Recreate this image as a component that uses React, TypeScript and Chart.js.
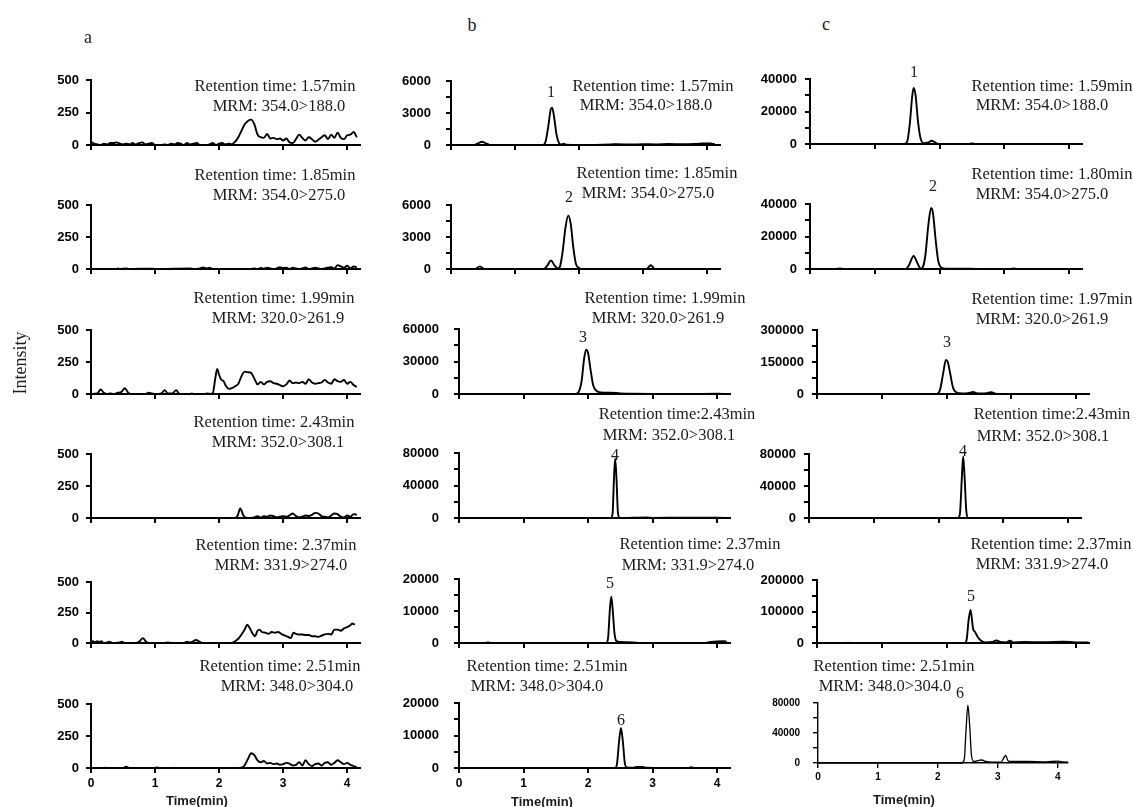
import React, { useEffect, useRef } from 'react';
import { Chart, registerables } from 'chart.js';
Chart.register(...registerables);

type P = [number, number][];

// ---------- column a (blank) ----------
const a1: P = [[0,25],[0.05,10],[0.1,5],[0.15,0],[0.2,10],[0.25,5],[0.3,15],[0.35,15],[0.4,20],[0.45,10],[0.5,5],[0.55,10],[0.6,5],[0.65,15],[0.7,5],[0.75,15],[0.8,20],[0.85,5],[0.9,10],[0.95,15],[1.0,0],[1.1,0],[1.15,5],[1.2,0],[1.25,10],[1.3,5],[1.35,15],[1.4,10],[1.45,0],[1.5,15],[1.55,5],[1.6,10],[1.65,15],[1.7,0],[1.8,0],[1.85,5],[1.9,15],[1.95,0],[2.0,10],[2.05,15],[2.1,5],[2.15,10],[2.2,5],[2.25,25],[2.3,60],[2.35,110],[2.4,160],[2.45,185],[2.5,195],[2.55,160],[2.6,80],[2.65,60],[2.7,55],[2.75,85],[2.8,50],[2.85,55],[2.9,45],[2.95,50],[3.0,35],[3.05,50],[3.1,20],[3.15,15],[3.2,45],[3.25,80],[3.3,55],[3.35,35],[3.4,60],[3.45,45],[3.5,25],[3.55,40],[3.6,60],[3.65,75],[3.7,45],[3.75,80],[3.8,55],[3.85,95],[3.9,55],[3.95,45],[4.0,75],[4.05,80],[4.1,100],[4.15,60]];
const a2: P = [[0,0],[0.4,0],[0.42,5],[0.45,0],[0.55,5],[0.58,0],[0.95,3],[1.0,0],[1.55,5],[1.6,0],[1.7,5],[1.75,12],[1.8,5],[1.85,10],[1.9,0],[2.5,0],[2.55,5],[2.6,0],[2.65,8],[2.7,3],[2.75,10],[2.8,5],[2.85,0],[2.9,5],[2.95,15],[3.0,8],[3.05,10],[3.1,0],[3.15,10],[3.2,5],[3.25,0],[3.3,5],[3.35,12],[3.4,0],[3.45,5],[3.5,10],[3.55,5],[3.6,0],[3.65,5],[3.7,10],[3.75,15],[3.8,5],[3.85,30],[3.9,20],[3.95,10],[4.0,25],[4.05,5],[4.1,20],[4.15,15]];
const a3: P = [[0,0],[0.1,5],[0.15,35],[0.2,10],[0.25,0],[0.3,5],[0.35,0],[0.42,10],[0.47,15],[0.53,45],[0.58,10],[0.62,0],[0.85,0],[0.9,10],[0.95,5],[1.0,0],[1.1,5],[1.15,30],[1.2,5],[1.27,5],[1.33,30],[1.38,0],[1.55,0],[1.57,5],[1.6,0],[1.78,0],[1.82,5],[1.86,0],[1.9,5],[1.94,120],[1.97,195],[2.0,150],[2.03,115],[2.07,100],[2.11,60],[2.15,40],[2.2,45],[2.25,60],[2.3,80],[2.35,140],[2.4,175],[2.45,170],[2.5,165],[2.53,140],[2.56,110],[2.6,75],[2.65,95],[2.7,75],[2.75,95],[2.8,100],[2.85,85],[2.9,80],[2.95,70],[3.0,60],[3.05,75],[3.1,105],[3.15,85],[3.2,90],[3.25,85],[3.3,95],[3.35,80],[3.4,115],[3.45,90],[3.5,80],[3.55,85],[3.6,90],[3.65,110],[3.7,90],[3.75,80],[3.8,115],[3.85,100],[3.9,95],[3.95,110],[4.0,80],[4.05,95],[4.1,70],[4.15,55]];
const a4: P = [[0,0],[2.25,0],[2.29,20],[2.33,75],[2.38,20],[2.43,0],[2.55,5],[2.6,15],[2.65,5],[2.7,15],[2.75,10],[2.8,20],[2.85,15],[2.9,5],[2.95,10],[3.0,15],[3.05,10],[3.1,20],[3.15,35],[3.2,15],[3.25,5],[3.3,10],[3.35,20],[3.4,15],[3.45,25],[3.5,40],[3.55,35],[3.6,15],[3.65,10],[3.7,5],[3.75,20],[3.8,35],[3.85,30],[3.9,10],[3.95,5],[4.0,20],[4.05,10],[4.1,30],[4.15,25]];
const a5: P = [[0,10],[0.03,15],[0.06,5],[0.1,15],[0.13,5],[0.16,15],[0.2,0],[0.25,5],[0.29,10],[0.33,0],[0.45,5],[0.48,10],[0.52,0],[0.7,0],[0.76,15],[0.81,40],[0.86,10],[0.9,0],[1.15,0],[1.2,5],[1.25,0],[1.45,0],[1.5,10],[1.55,5],[1.6,15],[1.64,25],[1.7,10],[1.75,0],[2.2,0],[2.25,15],[2.3,35],[2.35,70],[2.4,110],[2.44,150],[2.48,120],[2.52,80],[2.56,55],[2.6,100],[2.63,110],[2.67,90],[2.72,85],[2.77,75],[2.82,90],[2.87,85],[2.92,90],[2.97,75],[3.03,60],[3.08,50],[3.12,40],[3.16,85],[3.2,75],[3.25,70],[3.3,70],[3.35,65],[3.4,65],[3.45,55],[3.5,55],[3.55,50],[3.6,60],[3.65,70],[3.7,75],[3.75,70],[3.8,110],[3.85,110],[3.9,100],[3.95,120],[4.0,130],[4.05,145],[4.08,160],[4.12,150]];
const a6: P = [[0,0],[0.2,0],[0.22,3],[0.25,0],[0.5,0],[0.55,10],[0.6,0],[1.0,0],[1.03,5],[1.06,0],[1.28,0],[1.3,3],[1.33,0],[2.3,0],[2.38,10],[2.45,70],[2.5,115],[2.55,100],[2.6,60],[2.65,45],[2.7,55],[2.75,35],[2.8,40],[2.85,30],[2.9,35],[2.95,25],[3.0,30],[3.05,40],[3.1,35],[3.15,20],[3.2,25],[3.25,45],[3.3,20],[3.35,60],[3.4,30],[3.45,15],[3.5,30],[3.55,35],[3.6,20],[3.65,40],[3.7,45],[3.75,25],[3.8,40],[3.85,60],[3.9,45],[3.95,30],[4.0,40],[4.05,25],[4.1,15],[4.15,5]];

// ---------- column b ----------
const b1: P = [[0,0],[0.35,0],[0.42,150],[0.48,300],[0.55,150],[0.62,0],[1.44,0],[1.48,400],[1.52,1800],[1.56,3400],[1.58,3500],[1.61,2600],[1.65,900],[1.69,150],[1.72,50],[1.76,120],[1.8,20],[2.0,0],[2.5,50],[2.6,80],[2.8,40],[3.0,70],[3.2,60],[3.4,90],[3.6,80],[3.8,100],[3.95,150],[4.05,140],[4.12,80]];
const b2: P = [[0,0],[0.38,0],[0.45,250],[0.52,0],[1.45,0],[1.5,300],[1.56,800],[1.62,300],[1.67,50],[1.7,200],[1.74,1500],[1.79,4000],[1.83,5000],[1.87,4200],[1.91,2000],[1.95,500],[2.0,100],[2.05,0],[3.05,0],[3.12,350],[3.18,0],[4.15,0]];
const b3: P = [[0,0],[1.8,0],[1.85,1500],[1.9,12000],[1.94,33000],[1.97,41000],[2.0,38000],[2.04,22000],[2.08,8000],[2.13,3000],[2.2,1500],[2.35,1200],[2.5,600],[2.7,200],[3.0,100],[3.5,100],[4.0,200],[4.15,100]];
const b4: P = [[0,0],[2.35,0],[2.38,5000],[2.4,45000],[2.42,73000],[2.44,50000],[2.46,10000],[2.48,1000],[2.52,0],[2.9,600],[3.0,200],[3.5,300],[4.15,200]];
const b5: P = [[0,0],[0.4,0],[0.45,150],[0.5,0],[2.28,0],[2.31,1500],[2.34,11000],[2.36,14500],[2.38,11000],[2.41,3000],[2.44,600],[2.5,300],[2.7,200],[2.8,0],[3.8,0],[3.9,300],[4.0,500],[4.1,600],[4.15,400]];
const b6: P = [[0,0],[2.42,0],[2.45,1500],[2.48,8000],[2.51,12300],[2.54,8000],[2.57,1500],[2.6,200],[2.7,100],[2.75,300],[2.85,350],[2.9,100],[3.55,0],[3.6,250],[3.65,0],[4.15,0]];

// ---------- column c ----------
const c1: P = [[0,0],[1.45,0],[1.5,1500],[1.54,12000],[1.58,30000],[1.6,34500],[1.63,30000],[1.67,13000],[1.71,3000],[1.76,500],[1.82,800],[1.88,2000],[1.93,1000],[1.98,0],[2.45,0],[2.5,300],[2.55,0],[4.15,0]];
const c2: P = [[0,0],[0.4,0],[0.46,300],[0.52,0],[1.48,0],[1.53,2500],[1.6,8000],[1.66,3500],[1.71,300],[1.74,1000],[1.78,8000],[1.83,28000],[1.87,37500],[1.9,34000],[1.94,18000],[1.98,5000],[2.03,800],[2.1,200],[2.6,100],[2.7,0],[3.1,0],[3.14,400],[3.2,0],[4.15,0]];
const c3: P = [[0,0],[1.85,0],[1.9,20000],[1.95,100000],[1.99,160000],[2.02,150000],[2.06,90000],[2.1,30000],[2.15,8000],[2.2,4000],[2.3,3000],[2.36,6000],[2.41,10000],[2.46,4000],[2.55,2000],[2.62,4000],[2.69,8000],[2.75,2000],[2.85,0],[4.15,0]];
const c4: P = [[0,0],[2.3,0],[2.33,5000],[2.36,50000],[2.38,77000],[2.4,55000],[2.43,8000],[2.46,0],[4.15,0]];
const c5: P = [[0,0],[0.45,0],[0.48,1000],[0.52,0],[2.28,0],[2.31,10000],[2.34,70000],[2.37,105000],[2.39,80000],[2.41,45000],[2.44,35000],[2.48,20000],[2.53,8000],[2.6,2000],[2.7,3000],[2.77,8000],[2.84,3000],[2.92,2000],[2.98,7000],[3.03,2000],[3.2,3000],[3.5,2500],[3.8,4000],[4.0,2000],[4.19,1500]];
const c6: P = [[0,0],[2.4,0],[2.44,5000],[2.47,45000],[2.5,77000],[2.53,50000],[2.56,10000],[2.6,2000],[2.66,3000],[2.73,4000],[2.8,2000],[2.9,1000],[3.05,1000],[3.1,7000],[3.13,10000],[3.17,3000],[3.22,2000],[3.5,2000],[3.8,1500],[4.0,2500],[4.1,1500],[4.17,1000]];

// ---------- text ----------
const retentionTexts = [
  'Retention time: 1.57min','Retention time: 1.85min','Retention time: 1.99min','Retention time: 2.43min','Retention time: 2.37min','Retention time: 2.51min',
  'Retention time: 1.57min','Retention time: 1.85min','Retention time: 1.99min','Retention time:2.43min','Retention time: 2.37min','Retention time: 2.51min',
  'Retention time: 1.59min','Retention time: 1.80min','Retention time: 1.97min','Retention time:2.43min','Retention time: 2.37min','Retention time: 2.51min',
];
const mrmTexts = ['MRM: 354.0>188.0','MRM: 354.0>275.0','MRM: 320.0>261.9','MRM: 352.0>308.1','MRM: 331.9>274.0','MRM: 348.0>304.0'];
const peakLabels = ['1','2','3','4','5','6'];
const columnLetters = ['a','b','c'];
const yAxisTitle = 'Intensity';
const xAxisTitle = 'Time(min)';

const series = [a1,a2,a3,a4,a5,a6,b1,b2,b3,b4,b5,b6,c1,c2,c3,c4,c5,c6];
const yMaxes = [500,500,500,500,500,500, 6000,6000,60000,80000,20000,20000, 40000,40000,300000,80000,200000,80000];
const yMinorSteps = [250,250,250,250,250,250, 1500,1500,15000,20000,5000,5000, 10000,10000,75000,20000,50000,20000];
const yMajorSteps = [250,250,250,250,250,250, 3000,3000,30000,40000,10000,10000, 20000,20000,150000,40000,100000,40000];

// ---------- layout (pixels) ----------
// [axisLeft, axisRight, top(ymax), bottom(0)]
const boxes: [number, number, number, number][] = [
  [91,360,80,145],[91,360,205,269],[91,360,330,394],[91,360,454,518],[91,360,582,643],[91,360,704,768],
  [451,720,81,145],[451,720,205,269],[459,730,329,394],[459,730,453,518],[459,730,579,643],[459,730,703,768],
  [810,1082,79,144],[810,1082,204,269],[817,1089,330,394],[809,1081,454,518],[817,1089,580,643],[818,1068,703,763],
];
const labelPad = [7,7,7,7,7,7, 15,15,15,15,15,15, 8,8,8,8,8,13];
const retPos: [number, number][] = [
  [275,86],[275,175],[274,298],[274,422],[276,545],[280,666],
  [653,86],[657,173],[665,298],[677,414],[700,544],[547,666],
  [1052,86],[1052,174],[1052,299],[1052,414],[1051,544],[894,666],
];
const mrmPos: [number, number][] = [
  [279,106],[279,195],[278,318],[278,442],[281,565],[287,686],
  [646,105],[648,193],[658,318],[669,435],[688,565],[537,686],
  [1042,105],[1042,194],[1042,319],[1043,436],[1042,564],[885,686],
];
const peakPos: [number, number][] = [
  [551,92],[569,197],[583,337],[615,455],[610,583],[621,720],
  [914,72],[933,186],[947,342],[963,451],[971,596],[960,693],
];
const letterPos: [number, number][] = [[88,37],[472,25],[826,24]];
const timeTitlePos: [number, number][] = [[197,800],[542,801],[904,799]];

const YW = 60, XH = 34, PT = 34, PR = 8;

function Panel({ idx }: { idx: number }) {
  const ref = useRef<HTMLCanvasElement>(null);
  const [l, r, t, b] = boxes[idx];
  const W = YW + (r - l) + PR;
  const H = PT + (b - t) + XH;
  const isBottom = idx % 6 === 5;
  const small = idx === 17;
  useEffect(() => {
    const fs = small ? 10 : 13;
    const lw = small ? 1.4 : 2;
    const major = yMajorSteps[idx];
    const axisColor = '#000';
    const chart = new Chart(ref.current as HTMLCanvasElement, {
      type: 'line',
      data: {
        datasets: [{
          data: series[idx].map(([x, y]) => ({ x, y })),
          borderColor: '#000',
          borderWidth: small ? 1.3 : 1.9,
          pointRadius: 0,
          fill: false,
          cubicInterpolationMode: 'monotone',
          clip: false as any,
        }],
      },
      options: {
        animation: false,
        responsive: false,
        maintainAspectRatio: false,
        devicePixelRatio: 1,
        layout: { padding: { top: PT, right: PR, left: 0, bottom: 0 } },
        plugins: { legend: { display: false }, tooltip: { enabled: false } },
        scales: {
          x: {
            type: 'linear',
            min: 0,
            max: small ? 4.17 : 4.2,
            afterFit: (s: any) => { s.height = XH; },
            border: { display: true, color: axisColor, width: lw },
            grid: { display: true, drawOnChartArea: false, drawTicks: true, tickLength: 5, color: axisColor, lineWidth: lw },
            ticks: {
              stepSize: 1, includeBounds: false, autoSkip: false, maxRotation: 0, padding: 3, color: '#000',
              font: { size: small ? 10 : 12, weight: 'bold', family: 'Liberation Sans' },
              callback: (v: any) => (isBottom ? String(v) : ''),
            },
          },
          y: {
            type: 'linear',
            min: 0,
            max: yMaxes[idx],
            afterFit: (s: any) => { s.width = YW; },
            border: { display: true, color: axisColor, width: lw },
            grid: { display: true, drawOnChartArea: false, drawTicks: true, tickLength: 5, color: axisColor, lineWidth: lw },
            ticks: {
              stepSize: yMinorSteps[idx], includeBounds: false, autoSkip: false, padding: labelPad[idx], color: '#000',
              font: { size: fs, weight: 'bold', family: 'Liberation Sans' },
              callback: (v: any) => (Math.abs(Number(v) % major) < 1e-6 ? String(v) : ''),
            },
          },
        },
      } as any,
    });
    return () => chart.destroy();
  }, []);
  return (
    <canvas
      ref={ref}
      width={W}
      height={H}
      style={{ position: 'absolute', left: l - YW, top: t - PT, width: W, height: H }}
    />
  );
}

const serif = '"Liberation Serif", "Times New Roman", serif';

function Label({ text, x, y, size, rotate, bold, family }: { text: string; x: number; y: number; size: number; rotate?: boolean; bold?: boolean; family?: string }) {
  return (
    <div
      style={{
        position: 'absolute', left: x, top: y, whiteSpace: 'nowrap', fontFamily: family || serif,
        fontSize: size, fontWeight: bold ? 'bold' : 'normal', color: '#1a1a1a', lineHeight: 1,
        transform: `translate(-50%, -50%)${rotate ? ' rotate(-90deg)' : ''}`,
      }}
    >
      {text}
    </div>
  );
}

export default function App() {
  return (
    <div style={{ position: 'absolute', left: 0, top: 0, width: 1133, height: 807, background: '#fff', overflow: 'hidden' }}>
      {series.map((_, i) => <Panel key={i} idx={i} />)}
      {retentionTexts.map((s, i) => <Label key={'r' + i} text={s} x={retPos[i][0]} y={retPos[i][1]} size={16.5} />)}
      {retentionTexts.map((_, i) => <Label key={'m' + i} text={mrmTexts[i % 6]} x={mrmPos[i][0]} y={mrmPos[i][1]} size={16.5} />)}
      {peakPos.map((p, i) => <Label key={'p' + i} text={peakLabels[i % 6]} x={p[0]} y={p[1]} size={16} />)}
      {letterPos.map((p, i) => <Label key={'l' + i} text={columnLetters[i]} x={p[0]} y={p[1]} size={18} />)}
      <Label text={yAxisTitle} x={20} y={363} size={18} rotate />
      {timeTitlePos.map((p, i) => <Label key={'t' + i} text={xAxisTitle} x={p[0]} y={p[1]} size={13} bold family='"Liberation Sans", Arial, sans-serif' />)}
    </div>
  );
}
